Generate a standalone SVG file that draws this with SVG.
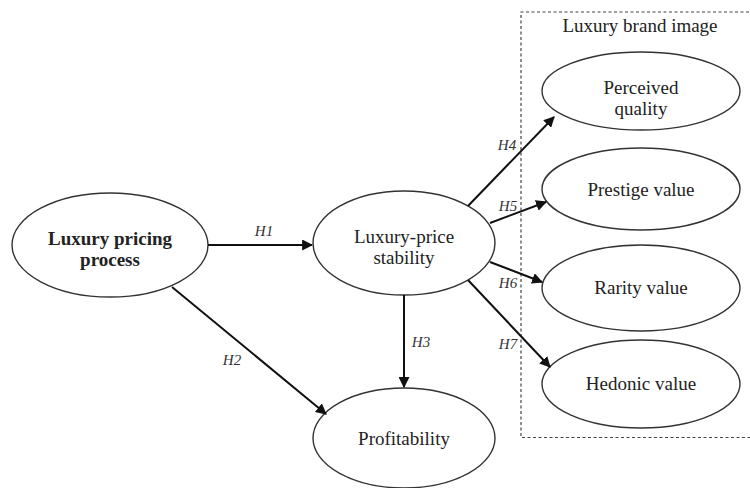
<svg xmlns="http://www.w3.org/2000/svg" width="750" height="488" viewBox="0 0 750 488">
  <style>
    .node { fill: #ffffff; stroke: #333333; stroke-width: 1.4; }
    .lbl { font-family: "Liberation Serif", "Times New Roman", serif; font-size: 19px; fill: #222222; text-anchor: middle; }
    .bold { font-weight: bold; }
    .hyp { font-family: "Liberation Serif", "Times New Roman", serif; font-size: 15px; font-style: italic; fill: #333333; text-anchor: middle; }
    .edge { stroke: #111111; stroke-width: 2; fill: none; marker-end: url(#arrow); }
    .group { fill: none; stroke: #444444; stroke-width: 1.2; stroke-dasharray: 3 2.5; }
  </style>
  <defs>
    <marker id="arrow" viewBox="0 0 10 10" refX="9" refY="5" markerWidth="5.5" markerHeight="5.5" orient="auto" markerUnits="strokeWidth">
      <path d="M0,0 L10,5 L0,10 z" fill="#111111"/>
    </marker>
  </defs>
  <rect width="750" height="488" fill="#ffffff"/>

  <!-- brand image cluster -->
  <g id="brand-image">
    <path class="group" d="M760,12 H521 V437.5 H760"/>
    <text class="lbl" x="640" y="32">Luxury brand image</text>
  </g>

  <g id="pricing-process">
    <ellipse class="node" cx="110" cy="245" rx="98" ry="52"/>
    <text class="lbl bold" x="110" y="245">Luxury pricing</text>
    <text class="lbl bold" x="110" y="266">process</text>
  </g>

  <g id="price-stability">
    <ellipse class="node" cx="404" cy="243" rx="91" ry="52"/>
    <text class="lbl" x="404" y="243">Luxury-price</text>
    <text class="lbl" x="404" y="264">stability</text>
  </g>

  <g id="profitability">
    <ellipse class="node" cx="404" cy="438" rx="91" ry="50"/>
    <text class="lbl" x="404" y="445">Profitability</text>
  </g>

  <g id="perceived-quality">
    <ellipse class="node" cx="641" cy="91" rx="99" ry="39"/>
    <text class="lbl" x="641" y="94">Perceived</text>
    <text class="lbl" x="641" y="115">quality</text>
  </g>

  <g id="prestige-value">
    <ellipse class="node" cx="641" cy="189" rx="99" ry="41"/>
    <text class="lbl" x="641" y="196">Prestige value</text>
  </g>

  <g id="rarity-value">
    <ellipse class="node" cx="641" cy="288" rx="99" ry="43"/>
    <text class="lbl" x="641" y="294">Rarity value</text>
  </g>

  <g id="hedonic-value">
    <ellipse class="node" cx="641" cy="384" rx="99" ry="44"/>
    <text class="lbl" x="641" y="390">Hedonic value</text>
  </g>

  <!-- hypothesis paths -->
  <g id="connectors">
    <line class="edge" x1="208" y1="245" x2="312" y2="245"/>
    <line class="edge" x1="172" y1="287" x2="326" y2="414"/>
    <line class="edge" x1="404" y1="295" x2="404" y2="387"/>
    <line class="edge" x1="468" y1="206" x2="554" y2="117"/>
    <line class="edge" x1="490" y1="223" x2="546" y2="202"/>
    <line class="edge" x1="490" y1="262" x2="542" y2="282"/>
    <line class="edge" x1="468" y1="280" x2="550" y2="367"/>
    <text class="hyp" x="264" y="236">H1</text>
    <text class="hyp" x="232" y="365">H2</text>
    <text class="hyp" x="421" y="347">H3</text>
    <text class="hyp" x="507" y="150">H4</text>
    <text class="hyp" x="508" y="211">H5</text>
    <text class="hyp" x="508" y="288">H6</text>
    <text class="hyp" x="508" y="349">H7</text>
  </g>
</svg>
